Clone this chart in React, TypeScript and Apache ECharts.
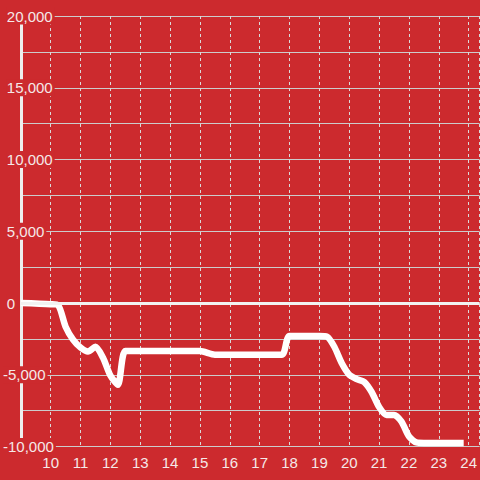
import React, { useEffect, useRef } from 'react';
import * as echarts from 'echarts';

// Time of day (hours) and cumulative values
const hours = [9, 10, 10.25, 10.5, 10.75, 11, 11.25, 11.5, 11.75, 12, 12.25, 12.5, 13, 14, 15, 15.5, 16, 17, 17.75, 18, 19, 19.25, 19.5, 19.75, 20, 20.25, 20.5, 20.75, 21, 21.25, 21.5, 21.75, 22, 22.25, 22.5, 23, 23.833];
const values = [0, -80, -150, -1650, -2550, -3100, -3380, -3050, -3800, -5050, -5700, -3350, -3350, -3350, -3350, -3600, -3600, -3600, -3600, -2300, -2300, -2350, -3050, -4200, -5000, -5300, -5500, -6200, -7250, -7800, -7800, -8270, -9300, -9720, -9750, -9750, -9750];

const xTickLabels = ['10', '11', '12', '13', '14', '15', '16', '17', '18', '19', '20', '21', '22', '23', '24'];
const yMin = -10000;
const yMax = 20000;
const yGridStep = 2500;
const yLabelStep = 5000;

const BG = '#cc2a2e';
const LABEL = '#f5e8e8';
const FONT = 'Liberation Sans, Arial, sans-serif';

const fmt = (v: number) => Math.round(v).toLocaleString('en-US');

export default function App() {
  const ref = useRef<HTMLDivElement>(null);
  useEffect(() => {
    if (!ref.current) return;
    const chart = echarts.init(ref.current, null, { renderer: 'svg' });
    const labelAxis = (cond: (v: number) => boolean, margin: number) => ({
      type: 'value',
      min: yMin,
      max: yMax,
      interval: yLabelStep,
      position: 'left',
      z: 10,
      axisLine: { show: false },
      axisTick: { show: false },
      splitLine: { show: false },
      axisLabel: {
        formatter: (v: number) => (cond(v) ? fmt(v) : ''),
        align: 'left',
        margin,
        color: LABEL,
        fontSize: 15,
        fontFamily: FONT,
        lineHeight: 15,
        backgroundColor: BG,
        padding: [1, 2, 1, 0],
      },
    });
    chart.setOption({
      animation: false,
      backgroundColor: BG,
      grid: { left: 20, right: -1, top: 16, bottom: 33.5, containLabel: false },
      xAxis: {
        type: 'value',
        min: 9,
        max: 9 + 461 / 30,
        interval: 1,
        axisLine: { show: false },
        axisTick: { show: false },
        splitLine: { show: true, lineStyle: { color: '#dadada', width: 1, type: [3, 3] } },
        axisLabel: {
          formatter: (v: number) => {
            const r = Math.round(v);
            if (Math.abs(v - r) > 1e-6) return '';
            const s = String(r);
            return xTickLabels.indexOf(s) >= 0 ? s : '';
          },
          color: LABEL,
          fontSize: 15,
          fontFamily: FONT,
          margin: 8,
          showMaxLabel: false,
        },
      },
      yAxis: [
        {
          type: 'value',
          min: yMin,
          max: yMax,
          interval: yGridStep,
          position: 'left',
          axisLine: { show: true, onZero: false, lineStyle: { color: '#eeeeee', width: 3 } },
          axisTick: { show: false },
          axisLabel: { show: false },
          splitLine: { show: true, lineStyle: { color: '#cccccc', width: 1 } },
        },
        labelAxis((v) => v >= 0, 14),
        labelAxis((v) => v < 0, 17.8),
      ],
      series: [
        {
          type: 'line',
          yAxisIndex: 0,
          data: hours.map((h, i) => [h, values[i]]),
          symbol: 'none',
          showSymbol: false,
          smooth: 0.25,
          lineStyle: { color: '#ffffff', width: 6.5 },
          markLine: {
            silent: true,
            symbol: 'none',
            label: { show: false },
            lineStyle: { color: '#f2f2f2', width: 3, type: 'solid' },
            data: [{ yAxis: 0 }],
          },
        },
      ],
    });
    return () => chart.dispose();
  }, []);
  return <div ref={ref} style={{ width: 480, height: 480, position: 'absolute', left: 0, top: 0 }} />;
}
